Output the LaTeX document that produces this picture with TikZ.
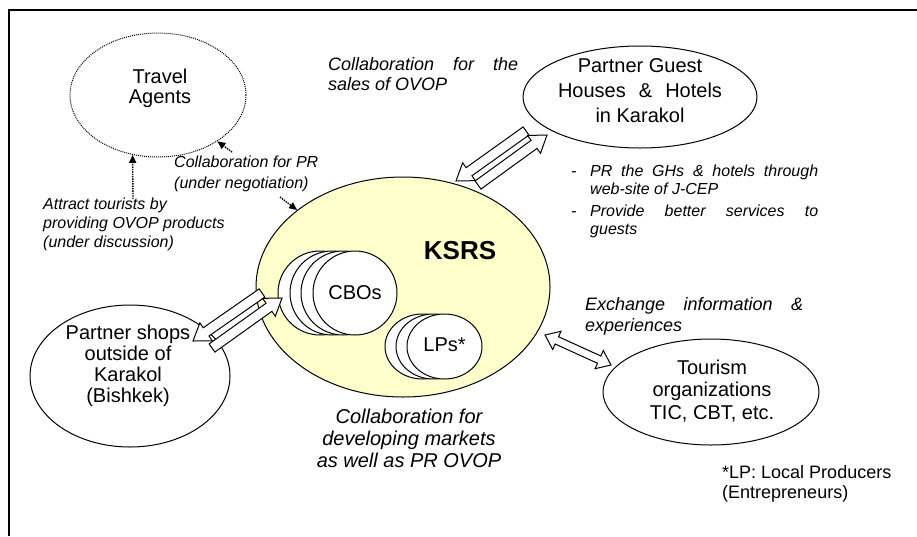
\documentclass[tikz,border=0pt]{standalone}
\usepackage{fontspec}
\setmainfont{Liberation Sans}
\usetikzlibrary{shapes.geometric,arrows.meta,calc}
\definecolor{ksrsfill}{RGB}{255,255,204}
\newcommand{\fsz}[2]{\fontsize{#1}{#2}\selectfont}
\newcommand{\blockarr}[5]{%
  \coordinate (ba-n) at ($(#2)!#5!(#1)$);
  \draw[blockstyle] ($(#1)!#3!90:(#2)$) -- ($(ba-n)!#3!90:(#2)$) -- ($(ba-n)!#4!90:(#2)$) -- (#2)
     -- ($(ba-n)!#4!-90:(#2)$) -- ($(ba-n)!#3!-90:(#2)$) -- ($(#1)!#3!-90:(#2)$) -- cycle;}
\newcommand{\dblarr}[5]{%
  \coordinate (da-a) at ($(#1)!#5!(#2)$);
  \coordinate (da-b) at ($(#2)!#5!(#1)$);
  \draw[blockstyle] (#1) -- ($(da-a)!#4!90:(#2)$) -- ($(da-a)!#3!90:(#2)$) -- ($(da-b)!#3!90:(#2)$)
     -- ($(da-b)!#4!90:(#2)$) -- (#2) -- ($(da-b)!#4!-90:(#2)$) -- ($(da-b)!#3!-90:(#2)$)
     -- ($(da-a)!#3!-90:(#2)$) -- ($(da-a)!#4!-90:(#2)$) -- cycle;}
\tikzset{
  blockstyle/.style={draw=black, fill=white, line width=1pt, line join=miter},
  oval/.style={ellipse, draw=black, line width=1pt, inner sep=0pt},
  disc/.style={ellipse, draw=black, fill=white, line width=1pt, inner sep=0pt},
  lbl/.style={inner sep=0pt, align=center, font=\fsz{20}{21}},
  note/.style={inner sep=0pt, align=left, font=\fsz{16}{19}\itshape},
  dotarrow/.style={densely dotted, line width=1.4pt, -{Triangle[length=8pt,width=7pt]}},
}
\begin{document}
\begin{tikzpicture}[x=1pt,y=-1pt]
\useasboundingbox (0,0) rectangle (917,536);
% frame
\draw[line width=1.2pt] (9,536) -- (9,10) -- (917,10);
% main ellipses
\node[oval, densely dotted, minimum width=176pt, minimum height=124pt] (TA) at (158,95) {};
\node[oval, minimum width=234pt, minimum height=102pt] (GH) at (640,97) {};
\node[oval, fill=ksrsfill, minimum width=294pt, minimum height=220pt] (KSRS) at (403,287) {};
\node[oval, minimum width=200pt, minimum height=142pt] (SH) at (130,376) {};
\node[oval, minimum width=216pt, minimum height=106pt] (TO) at (711,392) {};
% stacked circles
\node[disc, minimum width=84pt, minimum height=84pt] (cb1) at (320,293) {};
\node[disc, minimum width=84pt, minimum height=84pt] (cb2) at (332,293) {};
\node[disc, minimum width=84pt, minimum height=84pt] (cb3) at (343,293) {};
\node[disc, minimum width=84pt, minimum height=84pt] (CBO) at (355,293) {};
\node[disc, minimum width=75pt, minimum height=65pt] (lp1) at (422.5,346.5) {};
\node[disc, minimum width=75pt, minimum height=65pt] (lp2) at (433.5,346.5) {};
\node[disc, minimum width=75pt, minimum height=65pt] (LP) at (444.5,346.5) {};
% labels in shapes
\node[lbl, font=\fsz{20}{20}] (tTA) at (160,88) {Travel\\Agents};
\node[lbl, font=\fsz{20}{25}] (tGH) at (640,91) {Partner Guest\\\makebox[164pt][s]{Houses \& Hotels}\\in Karakol};
\node[lbl, font=\fsz{26}{26}\bfseries] (tKSRS) at (460,251) {KSRS};
\node[lbl] (tCBO) at (CBO) {CBOs};
\node[lbl] (tLP) at ([yshift=2pt]LP.center) {LPs*};
\node[lbl] (tSH) at (128,366) {Partner shops\\outside of\\Karakol\\(Bishkek)};
\node[lbl, font=\fsz{20}{22.5}] (tTO) at (712,391) {Tourism\\organizations\\TIC, CBT, etc.};
% free texts
\node[note, anchor=west, font=\fsz{18}{20}\itshape] (tSales) at (328,74) {\makebox[190pt][s]{Collaboration for the}\\sales of OVOP};
\node[note, anchor=west, font=\fsz{16}{21}\itshape] (tPR) at (174,174) {Collaboration for PR\\(under negotiation)};
\node[note, anchor=west, font=\fsz{16}{19}\itshape] (tAttr) at (43,224) {Attract tourists by\\providing OVOP products\\(under discussion)};
\node[note, anchor=west, font=\fsz{16}{18}\itshape] (tB1) at (571,180) {\makebox[19pt][l]{-}\makebox[228pt][s]{PR the GHs \& hotels through}\\\hspace*{19pt}web-site of J-CEP};
\node[note, anchor=west, font=\fsz{16}{18}\itshape] (tB2) at (571,221) {\makebox[19pt][l]{-}\makebox[228pt][s]{Provide better services to}\\\hspace*{19pt}guests};
\node[lbl, font=\fsz{20}{22}\itshape] (tDev) at (409,438) {Collaboration for\\developing markets\\as well as PR OVOP};
\node[note, anchor=west, font=\fsz{18}{21}\itshape] (tEx) at (585,316) {\makebox[218pt][s]{Exchange information \&}\\experiences};
\node[note, anchor=west, font=\fsz{18}{20}] (tLPnote) at (722,484) {*LP: Local Producers\\(Entrepreneurs)};
% dotted arrows
\coordinate (d1s) at (133,199);
\coordinate (d2s) at (232,152);
\coordinate (d3s) at (280,197);
\draw[dotarrow] (d1s) -- (TA.247);
\draw[dotarrow] (d2s) -- (TA.322);
\draw[dotarrow] (d3s) -- (KSRS.144);
% block arrows
\coordinate (a1t) at (526,131); \coordinate (a1h) at (456,181);
\coordinate (a2t) at (478,185); \coordinate (a2h) at (547,135);
\coordinate (b1t) at (262,293); \coordinate (b1h) at (193,341);
\coordinate (b2t) at (212,348); \coordinate (b2h) at (282,298);
\coordinate (c1) at (545,335); \coordinate (c2) at (611,365);
\blockarr{a1t}{a1h}{5pt}{11pt}{16pt}
\blockarr{a2t}{a2h}{5pt}{11pt}{16pt}
\blockarr{b1t}{b1h}{5pt}{11pt}{16pt}
\blockarr{b2t}{b2h}{5pt}{11pt}{16pt}
\dblarr{c1}{c2}{4pt}{10pt}{13pt}
\end{tikzpicture}
\end{document}
